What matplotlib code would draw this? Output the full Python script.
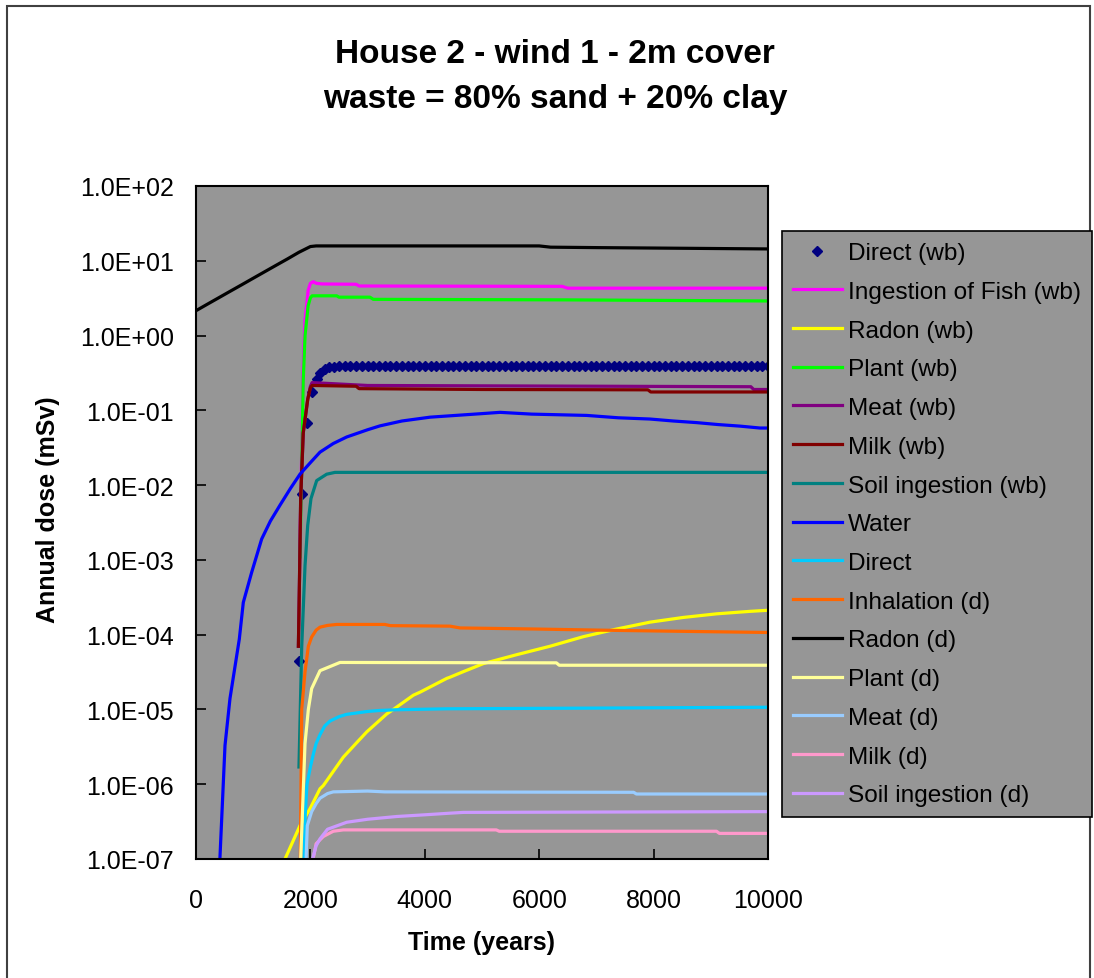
import numpy as np
import matplotlib.pyplot as plt
from matplotlib.patches import Rectangle
from matplotlib.ticker import FuncFormatter, NullLocator

plt.rcParams['font.family'] = ['Liberation Sans', 'DejaVu Sans']

# ---- data (time in years, dose in mSv) ----
direct_wb_t = [1800, 1860, 1935, 2030, 2110, 2170, 2250, 2330, 2420,
               2500, 2600, 2700, 2800, 2900, 3000, 3100, 3200, 3300, 3400,
               3500, 3600, 3700, 3800, 3900, 4000, 4100, 4200, 4300, 4400,
               4500, 4600, 4700, 4800, 4900, 5000, 5100, 5200, 5300, 5400,
               5500, 5600, 5700, 5800, 5900, 6000, 6100, 6200, 6300, 6400,
               6500, 6600, 6700, 6800, 6900, 7000, 7100, 7200, 7300, 7400,
               7500, 7600, 7700, 7800, 7900, 8000, 8100, 8200, 8300, 8400,
               8500, 8600, 8700, 8800, 8900, 9000, 9100, 9200, 9300, 9400,
               9500, 9600, 9700, 9800, 9900, 10000]
direct_wb_v = [4.5e-5, 7.6e-3, 0.068, 0.178, 0.263, 0.32, 0.355, 0.375, 0.385,
               0.39, 0.392, 0.394, 0.395, 0.396, 0.396, 0.396, 0.396, 0.396, 0.396,
               0.396, 0.396, 0.396, 0.396, 0.396, 0.396, 0.396, 0.396, 0.396, 0.396,
               0.396, 0.396, 0.396, 0.396, 0.396, 0.396, 0.396, 0.396, 0.396, 0.396,
               0.396, 0.396, 0.396, 0.396, 0.396, 0.396, 0.396, 0.396, 0.396, 0.396,
               0.396, 0.396, 0.396, 0.396, 0.396, 0.396, 0.396, 0.396, 0.396, 0.396,
               0.396, 0.396, 0.396, 0.396, 0.396, 0.396, 0.396, 0.396, 0.396, 0.396,
               0.396, 0.396, 0.396, 0.396, 0.396, 0.396, 0.396, 0.396, 0.396, 0.396,
               0.396, 0.396, 0.396, 0.396, 0.396, 0.396]

fish_t = [1818, 1875, 1906, 1960, 2000, 2050, 2100, 2200, 2800, 2850, 6400, 6500, 10000]
fish_v = [1.5e-3, 0.4, 1.6, 4.0, 5.0, 5.25, 5.0, 4.9, 4.85, 4.6, 4.55, 4.3, 4.3]

radon_wb_t = [1500, 1556, 1818, 1993, 2168, 2226, 2575, 2810, 2984, 3334, 3450, 3800,
              3916, 4383, 4441, 4673, 5023, 5607, 6189, 6771, 7355, 7937, 8520, 9103,
              9685, 10000]
radon_wb_v = [7e-8, 1e-7, 2.8e-7, 4.7e-7, 8.7e-7, 9.6e-7, 2.3e-6, 3.6e-6, 5e-6, 8.7e-6,
              1e-5, 1.55e-5, 1.7e-5, 2.6e-5, 2.7e-5, 3.2e-5, 4.1e-5, 5.4e-5, 7.0e-5,
              9.4e-5, 1.19e-4, 1.47e-4, 1.7e-4, 1.9e-4, 2.05e-4, 2.12e-4]

plant_wb_t = [1818, 1875, 1906, 1960, 2000, 2030, 2460, 2500, 3040, 3100, 6500, 10000]
plant_wb_v = [1.1e-3, 0.26, 1.0, 2.5, 3.2, 3.4, 3.4, 3.26, 3.26, 3.05, 3.0, 2.9]

meat_wb_t = [1790, 1810, 1830, 1875, 1953, 2000, 2030, 2500, 3000, 9700, 9750, 10000]
meat_wb_v = [7e-5, 6e-4, 6.6e-3, 0.05, 0.14, 0.21, 0.235, 0.225, 0.215, 0.207, 0.19, 0.19]

milk_wb_t = [1790, 1810, 1830, 1875, 1953, 2000, 2030, 2800, 2850, 5000, 7900, 7950, 10000]
milk_wb_v = [7e-5, 6e-4, 6.6e-3, 0.05, 0.14, 0.2, 0.215, 0.21, 0.195, 0.19, 0.188, 0.176, 0.176]

soil_wb_t = [1800, 1848, 1906, 1953, 2010, 2110, 2285, 2430, 10000]
soil_wb_v = [1.7e-6, 6.8e-5, 8.4e-4, 2.9e-3, 6.6e-3, 0.0115, 0.014, 0.0148, 0.0148]

water_t = [400, 507, 594, 757, 827, 973, 1148, 1300, 1469, 1650, 1818, 2000, 2168, 2400,
           2634, 3000, 3217, 3600, 4091, 4965, 5315, 5868, 6830, 7383, 7937, 8345, 8753,
           9131, 9510, 9860, 10000]
water_v = [5e-8, 3.3e-6, 1.4e-5, 8.7e-5, 2.7e-4, 6.8e-4, 1.9e-3, 3.3e-3, 5.4e-3, 9e-3, 0.014, 0.02,
           0.0276, 0.036, 0.044, 0.055, 0.062, 0.072, 0.081, 0.09, 0.094, 0.089, 0.0855, 0.0795,
           0.0765, 0.072, 0.0685, 0.0645, 0.0615, 0.058, 0.058]

direct_t = [1885, 1910, 1940, 2000, 2050, 2100, 2168, 2250, 2343, 2500, 2634, 3000, 3217,
            3500, 4383, 10000]
direct_v = [8e-8, 4e-7, 1e-6, 1.7e-6, 2.5e-6, 3.5e-6, 4.6e-6, 6e-6, 7e-6, 8e-6, 8.6e-6, 9.4e-6,
            9.7e-6, 9.9e-6, 1.02e-5, 1.07e-5]

inhal_t = [1820, 1848, 1906, 1964, 2022, 2100, 2168, 2300, 2460, 3300, 3400, 4441, 4615,
           5927, 7355, 8811, 10000]
inhal_v = [5e-8, 1e-5, 3.2e-5, 7e-5, 9.3e-5, 1.15e-4, 1.26e-4, 1.33e-4, 1.37e-4, 1.37e-4,
           1.32e-4, 1.3e-4, 1.23e-4, 1.19e-4, 1.14e-4, 1.1e-4, 1.07e-4]

radon_d_t = [0, 200, 400, 600, 800, 1000, 1200, 1400, 1600, 1800, 2000, 2100, 6000,
             6200, 7000, 8000, 9000, 10000]
radon_d_v = [2.15, 2.63, 3.21, 3.92, 4.78, 5.84, 7.13, 8.7, 10.6, 13.0, 15.5, 15.8, 15.8,
             15.2, 15.0, 14.8, 14.6, 14.4]

plant_d_t = [1830, 1906, 1964, 2022, 2168, 2517, 6300, 6350, 10000]
plant_d_v = [1e-7, 3.5e-6, 1e-5, 1.9e-5, 3.3e-5, 4.25e-5, 4.2e-5, 3.9e-5, 3.9e-5]

meat_d_t = [1920, 1946, 2022, 2100, 2168, 2300, 2400, 3000, 3300, 7650, 7700, 10000]
meat_d_v = [8e-8, 2.8e-7, 4.3e-7, 5.5e-7, 6.5e-7, 7.5e-7, 7.9e-7, 8.1e-7, 7.9e-7, 7.8e-7,
            7.4e-7, 7.4e-7]

milk_d_t = [2022, 2100, 2226, 2400, 2575, 5250, 5300, 9100, 9150, 10000]
milk_d_v = [8e-8, 1.6e-7, 2.0e-7, 2.35e-7, 2.45e-7, 2.45e-7, 2.35e-7, 2.35e-7, 2.2e-7, 2.2e-7]

soil_d_t = [2005, 2100, 2168, 2300, 2634, 3000, 3508, 4000, 4441, 4673, 10000]
soil_d_v = [8e-8, 1.5e-7, 1.86e-7, 2.5e-7, 3.1e-7, 3.4e-7, 3.7e-7, 3.9e-7, 4.1e-7, 4.2e-7, 4.3e-7]

series = [
    ('Ingestion of Fish (wb)', fish_t, fish_v, '#FF00FF'),
    ('Radon (wb)', radon_wb_t, radon_wb_v, '#FFFF00'),
    ('Plant (wb)', plant_wb_t, plant_wb_v, '#00FF00'),
    ('Meat (wb)', meat_wb_t, meat_wb_v, '#800080'),
    ('Milk (wb)', milk_wb_t, milk_wb_v, '#800000'),
    ('Soil ingestion (wb)', soil_wb_t, soil_wb_v, '#008080'),
    ('Water', water_t, water_v, '#0000FF'),
    ('Direct', direct_t, direct_v, '#00CCFF'),
    ('Inhalation (d)', inhal_t, inhal_v, '#FF6600'),
    ('Radon (d)', radon_d_t, radon_d_v, '#000000'),
    ('Plant (d)', plant_d_t, plant_d_v, '#FFFF99'),
    ('Meat (d)', meat_d_t, meat_d_v, '#99CCFF'),
    ('Milk (d)', milk_d_t, milk_d_v, '#FF99CC'),
    ('Soil ingestion (d)', soil_d_t, soil_d_v, '#CC99FF'),
]

fig = plt.figure(figsize=(10.94, 9.79), dpi=100)
ax = fig.add_axes([196 / 1094, 1 - 860 / 979, 572 / 1094, 673 / 979])
ax.set_facecolor('#969696')

handles = []
h, = ax.plot(direct_wb_t, direct_wb_v, linestyle='none', marker='D', markersize=5.5,
             color='#000080', label='Direct (wb)')
handles.append(h)
for name, t, v, c in series:
    h, = ax.plot(t, v, color=c, lw=2.3, label=name)
    handles.append(h)

ax.set_yscale('log')
ax.set_ylim(1e-7, 1e2)
ax.set_xlim(0, 10000)
ax.set_xticks([0, 2000, 4000, 6000, 8000, 10000])
ax.set_yticks([1e-7, 1e-6, 1e-5, 1e-4, 1e-3, 1e-2, 1e-1, 1e0, 1e1, 1e2])
ax.yaxis.set_minor_locator(NullLocator())
ax.yaxis.set_major_formatter(FuncFormatter(lambda v, p: f'{v:.1E}'))
ax.tick_params(axis='both', direction='in', length=7, width=1.2, labelsize=18)
ax.tick_params(axis='y', pad=16)
ax.tick_params(axis='x', pad=21)
for s in ax.spines.values():
    s.set_linewidth(1.5)
    s.set_color('black')

fig.text(555 / 1094, 1 - 63 / 979, 'House 2 - wind 1 - 2m cover', ha='center',
         va='baseline', fontsize=24, fontweight='bold')
fig.text(555 / 1094, 1 - 108 / 979, 'waste = 80% sand + 20% clay', ha='center',
         va='baseline', fontsize=24, fontweight='bold')
fig.text(482 / 1094, 1 - 950 / 979, 'Time (years)', ha='center', va='baseline',
         fontsize=18, fontweight='bold')
fig.text(48 / 1094, 1 - 510 / 979, 'Annual dose (mSv)', ha='center', va='center',
         rotation=90, fontsize=18, fontweight='bold')

leg = fig.legend(handles=handles, loc='upper left',
                 bbox_to_anchor=(782 / 1094, 1 - 232 / 979), fontsize=17.6,
                 frameon=True, fancybox=False, framealpha=1, facecolor='#969696',
                 edgecolor='black', borderpad=0.45, labelspacing=0.68,
                 handlelength=2.0, handletextpad=0.26, borderaxespad=0, numpoints=1)
leg.get_frame().set_linewidth(1.2)

fig.add_artist(Rectangle((7 / 1094, -0.05), 1083 / 1094, 1.05 - 7 / 979,
                         transform=fig.transFigure, fill=False, lw=1.5,
                         edgecolor='#404040'))

fig.savefig('out.png', dpi=100)
